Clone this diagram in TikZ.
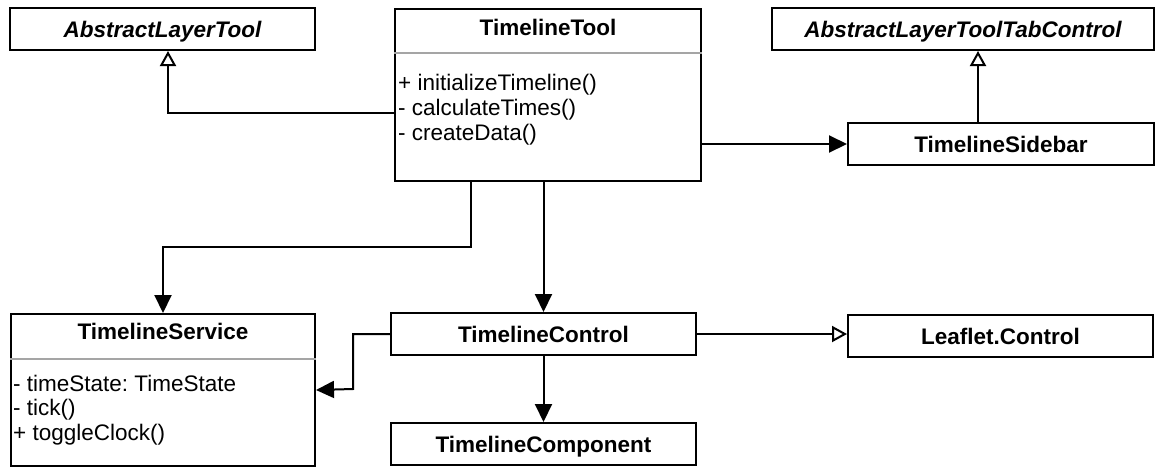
\documentclass[tikz,border=0pt]{standalone}
\usepackage{fontspec}
\setmainfont{Liberation Sans}
\usetikzlibrary{arrows.meta}
\definecolor{divgray}{RGB}{165,165,165}
\frenchspacing
\begin{document}
\begin{tikzpicture}[x=1pt,y=-1pt,
  box/.style={draw, line width=2pt, inner sep=0pt, text height=16pt, text depth=0pt,
    font=\fontsize{22.5}{25}\selectfont\bfseries},
  cls/.style={draw, line width=2pt, inner sep=0pt, anchor=north west},
  ctitle/.style={anchor=base, inner sep=0pt, font=\fontsize{22.5}{25}\selectfont\bfseries},
  mtext/.style={anchor=base west, inner sep=0pt, font=\fontsize{22.5}{25}\selectfont},
  divider/.style={draw=divgray, line width=1.5pt},
  assoc/.style={line width=2pt, -{Triangle[length=18pt,width=17pt]}},
  inh/.style={line width=2pt, -{Triangle[open,length=15pt,width=16pt,fill=white]}}]
\useasboundingbox (0,0) rectangle (1156,467);

% single boxes
\node[box, minimum width=305pt, minimum height=42pt] (alt) at (162.5,29) {\itshape AbstractLayerTool};
\node[box, minimum width=382pt, minimum height=42pt] (altc) at (963,29) {\itshape AbstractLayerToolTabControl};
\node[box, minimum width=306pt, minimum height=42pt] (ts) at (1001,144) {TimelineSidebar};
\node[box, minimum width=305pt, minimum height=42pt] (tc) at (543.5,334) {TimelineControl};
\node[box, minimum width=305pt, minimum height=42pt] (tcomp) at (543.5,444) {TimelineComponent};
\node[box, minimum width=305pt, minimum height=42pt] (lc) at (1000.5,336) {Leaflet.Control};

% class TimelineTool
\node[cls, minimum width=306pt, minimum height=172pt] (tt) at (394,8) {};
\node[ctitle] (tttitle) at ([yshift=-27pt]tt.north) {TimelineTool};
\draw[divider] ([yshift=-45pt]tt.north west) -- ([yshift=-45pt]tt.north east);
\node[mtext] (tt1) at ([xshift=4pt,yshift=-82pt]tt.north west) {+ initializeTimeline()};
\node[mtext] (tt2) at ([xshift=4pt,yshift=-107pt]tt.north west) {- calculateTimes()};
\node[mtext] (tt3) at ([xshift=4pt,yshift=-132pt]tt.north west) {- createData()};

% class TimelineService
\node[cls, minimum width=304pt, minimum height=152pt] (svc) at (10,313) {};
\node[ctitle] (svctitle) at ([yshift=-26pt]svc.north) {TimelineService};
\draw[divider] ([yshift=-46pt]svc.north west) -- ([yshift=-46pt]svc.north east);
\node[mtext] (s1) at ([xshift=3pt,yshift=-78pt]svc.north west) {- timeState: TimeState};
\node[mtext] (s2) at ([xshift=3pt,yshift=-102pt]svc.north west) {- tick()};
\node[mtext] (s3) at ([xshift=3pt,yshift=-127pt]svc.north west) {+ toggleClock()};

% connectors
\coordinate (p1) at (168,113);
\draw[inh] (p1 -| tt.west) -- (p1) -- (p1 |- alt.south);
\draw[assoc] (ts.west -| tt.east) -- (ts.west);
\coordinate (p2) at (978,0);
\draw[inh] (p2 |- ts.north) -- (p2 |- altc.south);
\coordinate (p3) at (471,247);
\draw[assoc] (p3 |- tt.south) -- (p3) -| (svc.north);
\draw[assoc] (tc.north |- tt.south) -- (tc.north);
\coordinate (p4) at (353,389);
\draw[assoc] (tc.west) -| (p4) -- (svc.east);
\draw[assoc] (tc.south) -- (tcomp.north);
\draw[inh] (tc.east) -- (tc.east -| lc.west);
\end{tikzpicture}
\end{document}
